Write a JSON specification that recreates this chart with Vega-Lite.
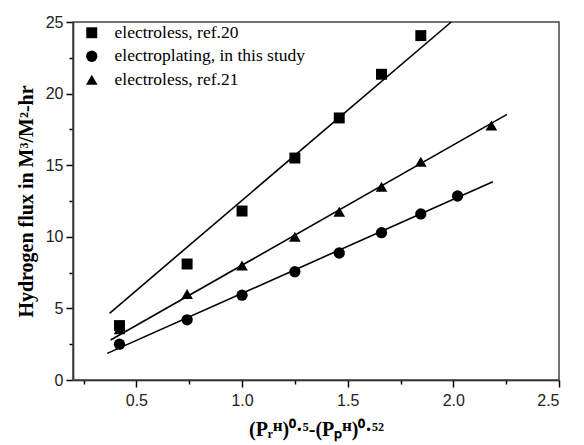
{
  "$schema": "https://vega.github.io/schema/vega-lite/v6.json",
  "width": 486,
  "height": 358,
  "autosize": {"type": "none"},
  "padding": {"left": 73, "top": 22, "right": 25, "bottom": 65},
  "background": "white",
  "config": {
    "view": {"stroke": null},
    "axis": {
      "labelFont": "Liberation Sans",
      "labelFontSize": 16,
      "labelColor": "#222",
      "titleFont": "Liberation Serif",
      "titleFontSize": 20,
      "titleFontWeight": "bold",
      "titleColor": "#000",
      "domainColor": "#000",
      "domainWidth": 1.5,
      "tickColor": "#000",
      "tickWidth": 1.5,
      "tickSize": 7,
      "labelPadding": 3,
      "grid": false
    }
  },
  "datasets": {
    "points": [
      {"series": "electroless, ref.20", "x": 0.42, "y": 3.8},
      {"series": "electroless, ref.20", "x": 0.74, "y": 8.1},
      {"series": "electroless, ref.20", "x": 1.0, "y": 11.8},
      {"series": "electroless, ref.20", "x": 1.25, "y": 15.5},
      {"series": "electroless, ref.20", "x": 1.46, "y": 18.3},
      {"series": "electroless, ref.20", "x": 1.66, "y": 21.35},
      {"series": "electroless, ref.20", "x": 1.846, "y": 24.05},
      {"series": "electroplating, in this study", "x": 0.42, "y": 2.5},
      {"series": "electroplating, in this study", "x": 0.74, "y": 4.2},
      {"series": "electroplating, in this study", "x": 1.0, "y": 5.92},
      {"series": "electroplating, in this study", "x": 1.25, "y": 7.56},
      {"series": "electroplating, in this study", "x": 1.46, "y": 8.87},
      {"series": "electroplating, in this study", "x": 1.66, "y": 10.29},
      {"series": "electroplating, in this study", "x": 1.846, "y": 11.6},
      {"series": "electroplating, in this study", "x": 2.02, "y": 12.85},
      {"series": "electroless, ref.21", "x": 0.42, "y": 3.55},
      {"series": "electroless, ref.21", "x": 0.74, "y": 6.0},
      {"series": "electroless, ref.21", "x": 1.0, "y": 8.0},
      {"series": "electroless, ref.21", "x": 1.25, "y": 10.0},
      {"series": "electroless, ref.21", "x": 1.46, "y": 11.75},
      {"series": "electroless, ref.21", "x": 1.66, "y": 13.5},
      {"series": "electroless, ref.21", "x": 1.846, "y": 15.24},
      {"series": "electroless, ref.21", "x": 2.18, "y": 17.77}
    ],
    "fits": [
      {"series": "electroless, ref.20", "x": 0.373, "y": 4.66},
      {"series": "electroless, ref.20", "x": 1.99, "y": 25.0},
      {"series": "electroplating, in this study", "x": 0.362, "y": 1.86},
      {"series": "electroplating, in this study", "x": 2.187, "y": 13.85},
      {"series": "electroless, ref.21", "x": 0.378, "y": 2.79},
      {"series": "electroless, ref.21", "x": 2.254, "y": 18.55}
    ]
  },
  "layer": [
    {
      "data": {"values": [{}]},
      "mark": {"type": "rect", "fill": null, "fillOpacity": 0, "stroke": "#444", "strokeWidth": 1.5},
      "encoding": {
        "x": {"datum": 0.2, "type": "quantitative", "scale": {"domain": [0.2, 2.5], "nice": false, "zero": false}, "axis": null},
        "x2": {"datum": 2.5},
        "y": {"datum": 0, "type": "quantitative", "scale": {"domain": [0, 25], "nice": false}, "axis": null},
        "y2": {"datum": 25}
      }
    },
    {
      "data": {"name": "fits"},
      "mark": {"type": "line", "color": "#000", "strokeWidth": 1.6},
      "encoding": {
        "x": {"field": "x", "type": "quantitative", "scale": {"domain": [0.2, 2.5], "nice": false, "zero": false},
          "axis": {"orient": "bottom", "values": [0.5, 1.0, 1.5, 2.0, 2.5], "format": ".1f", "title": "(Pᵣᴴ)⁰·⁵-(Pₚᴴ)⁰·⁵²", "labelPadding": 5, "titlePadding": 11}},
        "y": {"field": "y", "type": "quantitative", "scale": {"domain": [0, 25], "nice": false},
          "axis": {"orient": "left", "values": [0, 5, 10, 15, 20, 25], "title": "Hydrogen flux in M³/M²-hr", "titlePadding": 9}},
        "detail": {"field": "series"}
      }
    },
    {
      "data": {"name": "fits"},
      "mark": {"type": "line", "opacity": 0},
      "encoding": {
        "x": {"field": "x", "type": "quantitative",
          "axis": {"orient": "bottom", "values": [0.25, 0.75, 1.25, 1.75, 2.25], "labels": false, "title": null, "domain": false, "tickSize": 4}},
        "y": {"field": "y", "type": "quantitative",
          "axis": {"orient": "left", "values": [2.5, 7.5, 12.5, 17.5, 22.5], "labels": false, "title": null, "domain": false, "tickSize": 4}},
        "detail": {"field": "series"}
      }
    },
    {
      "data": {"name": "points"},
      "mark": {"type": "point", "filled": true, "color": "#000", "opacity": 1},
      "encoding": {
        "x": {"field": "x", "type": "quantitative", "axis": null},
        "y": {"field": "y", "type": "quantitative", "axis": null},
        "shape": {
          "field": "series", "type": "nominal",
          "scale": {"domain": ["electroless, ref.20", "electroplating, in this study", "electroless, ref.21"], "range": ["square", "circle", "triangle-up"]},
          "legend": {
            "title": null, "orient": "none", "legendX": 10, "legendY": 2,
            "labelFont": "Liberation Serif", "labelFontSize": 17.5, "labelColor": "#000",
            "symbolFillColor": "#000", "symbolStrokeColor": "#000",
            "rowPadding": 4.5, "labelOffset": 14, "padding": 0, "labelLimit": 300
          }
        },
        "size": {
          "field": "series", "type": "nominal",
          "scale": {"domain": ["electroless, ref.20", "electroplating, in this study", "electroless, ref.21"], "range": [120, 135, 180]}
        }
      }
    }
  ],
  "resolve": {"axis": {"x": "independent", "y": "independent"}}
}
